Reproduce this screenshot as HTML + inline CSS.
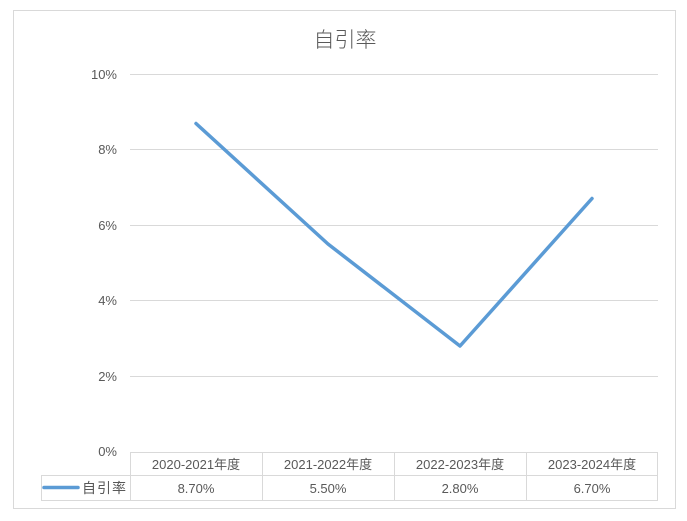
<!DOCTYPE html>
<html><head><meta charset="utf-8"><style>
html,body{margin:0;padding:0;background:#fff;}
svg{display:block;}
text{font-family:"Liberation Sans","Noto Sans CJK SC",sans-serif;fill:#595959;}
</style></head><body>
<svg width="687" height="521" viewBox="0 0 687 521" xmlns="http://www.w3.org/2000/svg">
<rect x="0" y="0" width="687" height="521" fill="#fff"/>
<rect x="13.5" y="10.5" width="662" height="498" fill="#fff" stroke="#d9d9d9" stroke-width="1"/>
<text x="345" y="47" font-size="21" text-anchor="middle" font-weight="300" style="font-family:'Noto Sans CJK SC',sans-serif;">自引率</text>
<g stroke="#d9d9d9" stroke-width="1">
<line x1="130" y1="74.5" x2="658" y2="74.5"/>
<line x1="130" y1="149.5" x2="658" y2="149.5"/>
<line x1="130" y1="225.5" x2="658" y2="225.5"/>
<line x1="130" y1="300.5" x2="658" y2="300.5"/>
<line x1="130" y1="376.5" x2="658" y2="376.5"/>
</g>
<g font-size="13" text-anchor="end">
<text x="117" y="79">10%</text>
<text x="117" y="154">8%</text>
<text x="117" y="230">6%</text>
<text x="117" y="305">4%</text>
<text x="117" y="381">2%</text>
<text x="117" y="456">0%</text>
</g>
<!-- table -->
<g stroke="#d9d9d9" stroke-width="1" fill="none">
<line x1="130" y1="452.5" x2="657" y2="452.5"/>
<line x1="41" y1="475.5" x2="657" y2="475.5"/>
<line x1="41" y1="500.5" x2="657" y2="500.5"/>
<line x1="41.5" y1="475" x2="41.5" y2="501"/>
<line x1="130.5" y1="452" x2="130.5" y2="501"/>
<line x1="262.5" y1="452" x2="262.5" y2="501"/>
<line x1="394.5" y1="452" x2="394.5" y2="501"/>
<line x1="526.5" y1="452" x2="526.5" y2="501"/>
<line x1="657.5" y1="452" x2="657.5" y2="501"/>
</g>
<g font-size="13" text-anchor="middle">
<text x="196" y="469">2020-2021<tspan style="font-family:'Noto Sans CJK SC',sans-serif;">年度</tspan></text>
<text x="328" y="469">2021-2022<tspan style="font-family:'Noto Sans CJK SC',sans-serif;">年度</tspan></text>
<text x="460" y="469">2022-2023<tspan style="font-family:'Noto Sans CJK SC',sans-serif;">年度</tspan></text>
<text x="592" y="469">2023-2024<tspan style="font-family:'Noto Sans CJK SC',sans-serif;">年度</tspan></text>
<text x="196" y="493">8.70%</text>
<text x="328" y="493">5.50%</text>
<text x="460" y="493">2.80%</text>
<text x="592" y="493">6.70%</text>
</g>
<line x1="44" y1="487.5" x2="78" y2="487.5" stroke="#5b9bd5" stroke-width="3.5" stroke-linecap="round"/>
<text x="82" y="493" font-size="14" style="font-family:'Noto Sans CJK SC',sans-serif;" letter-spacing="1">自引率</text>
<polyline points="196,123.5 328,244 460,346 592,198.5" fill="none" stroke="#5b9bd5" stroke-width="3.5" stroke-linecap="round" stroke-linejoin="round"/>
</svg>
</body></html>
